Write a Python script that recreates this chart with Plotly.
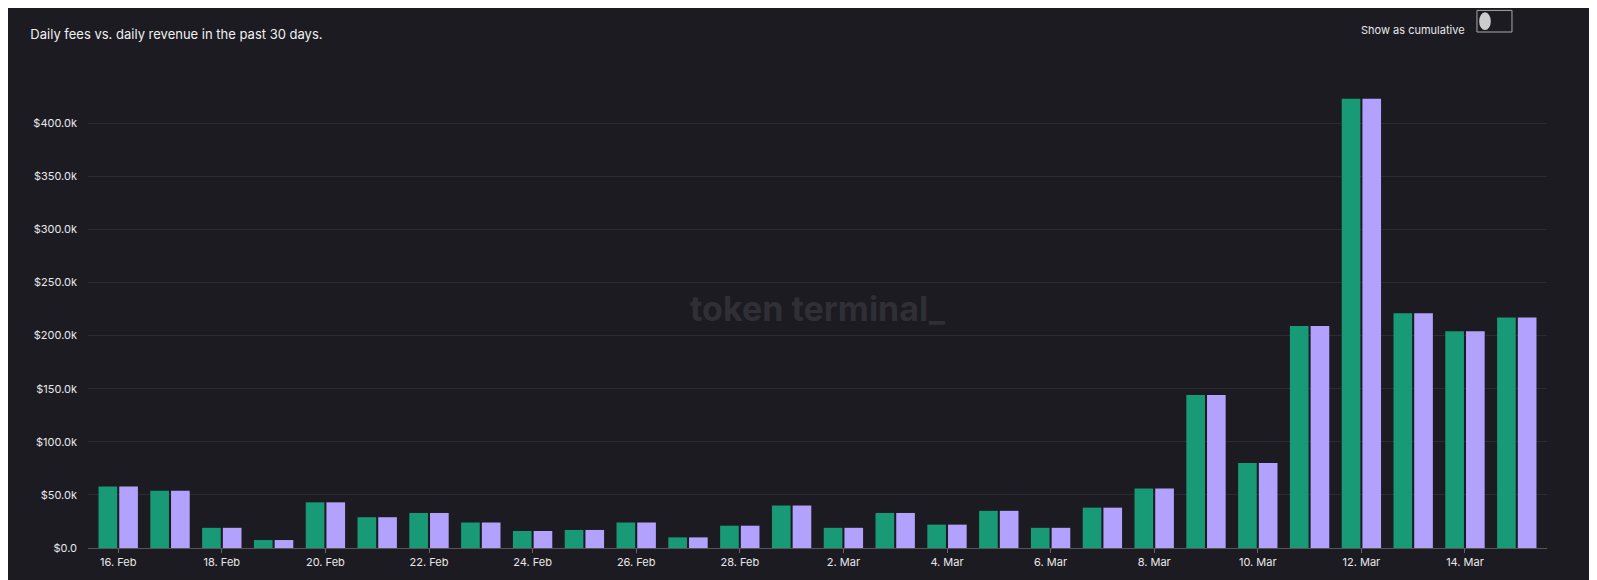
import plotly.graph_objects as go
import pandas as pd

days = pd.date_range("2023-02-16", "2023-03-15", freq="D")
fees = [58, 54, 19, 7.5, 43, 29, 33, 24, 16, 17, 24, 10, 21, 40, 19, 33, 22, 35, 19, 38,
        56, 144, 80, 209, 423, 221, 204, 217]
revenue = [58, 54, 19, 7.5, 43, 29, 33, 24, 16, 17, 24, 10, 21, 40, 19, 33, 22, 35, 19, 38,
           56, 144, 80, 209, 423, 221, 204, 217]
tick_vals = [0, 50, 100, 150, 200, 250, 300, 350, 400]
tick_text = ["$%.1fk" % v if v else "$0.0" for v in tick_vals]
x_ticks = days[::2]
x_labels = [f"{d.day}. {d.strftime('%b')}" for d in x_ticks]

fig = go.Figure()
fig.add_bar(x=days, y=fees, name="Fees", marker=dict(color="#189a76", line=dict(width=0)))
fig.add_bar(x=days, y=revenue, name="Revenue", marker=dict(color="#b3a2fd", line=dict(width=0)))

fig.update_layout(
    width=1597, height=580,
    paper_bgcolor="#1c1b21", plot_bgcolor="#1c1b21",
    font=dict(family="Inter, Noto Sans", color="#e8e8ea", size=11),
    margin=dict(l=80, r=58, t=60, b=40),
    barmode="group", bargap=0.2, bargroupgap=0.1,
    showlegend=False,
    title=dict(text="Daily fees vs. daily revenue in the past 30 days.",
               x=0.014, y=0.962, xanchor="left", font=dict(size=13, color="#f0f0f2")),
    xaxis=dict(tickvals=x_ticks, ticktext=x_labels, showgrid=False,
               ticks="outside", ticklen=4, tickcolor="#666", showline=True,
               linecolor="#555",
               range=[days[0] - pd.Timedelta(hours=14), days[-1] + pd.Timedelta(hours=14)]),
    yaxis=dict(tickvals=tick_vals, ticktext=tick_text, range=[0, 452],
               gridcolor="#2c2b33", zeroline=False, ticks="", tickfont=dict(size=11)),
    annotations=[
        dict(text="<b>token terminal_</b>", x=0.5, y=0.5, xref="paper", yref="paper",
             showarrow=False, font=dict(size=34, color="#302f36")),
        dict(text="Show as cumulative", x=0.945, y=1.098, xref="paper", yref="paper",
             xanchor="right", showarrow=False, font=dict(size=11, color="#e8e8ea")),
    ],
    shapes=[
        dict(type="rect", xref="paper", yref="paper", x0=0.952, x1=0.976, y0=1.075, y1=1.12,
             line=dict(color="#aaa", width=1), fillcolor="#1c1b21"),
        dict(type="circle", xref="paper", yref="paper", x0=0.9535, x1=0.9615, y0=1.079, y1=1.116,
             line=dict(width=0), fillcolor="#ccc"),
    ],
)
fig.update_yaxes(ticklabelstandoff=10)
fig.write_html("out.html")
